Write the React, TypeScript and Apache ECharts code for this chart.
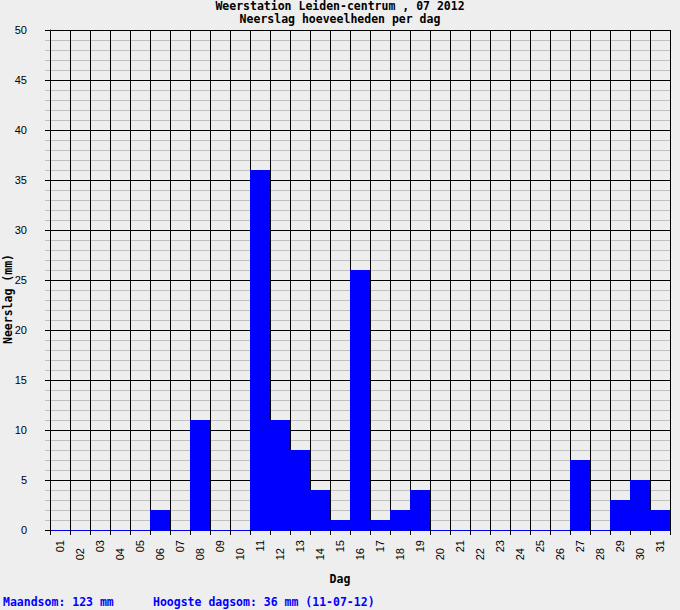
import React, { useEffect, useRef } from "react";
import * as echarts from "echarts";

const days = ["01","02","03","04","05","06","07","08","09","10","11","12","13","14","15","16","17","18","19","20","21","22","23","24","25","26","27","28","29","30","31"];
const rain = [0,0,0,0,0,2,0,11,0,0,36,11,8,4,1,26,1,2,4,0,0,0,0,0,0,0,7,0,3,5,2];
const titleLines = ["Weerstation Leiden-centrum , 07 2012", "Neerslag hoeveelheden per dag"];
const footerLeft = "Maandsom: 123 mm";
const footerRight = "Hoogste dagsom: 36 mm (11-07-12)";
const yName = "Neerslag (mm)";
const xName = "Dag";

const MONO = "'DejaVu Sans Mono', 'Liberation Mono', monospace";
const SANS = "'Liberation Sans', 'DejaVu Sans', sans-serif";

export default function App() {
  const ref = useRef<HTMLDivElement>(null);
  useEffect(() => {
    document.body.style.margin = "0";
    document.body.style.background = "#eeeeee";
    const chart = echarts.init(ref.current!, null, { renderer: "svg" });
    const labelStyle = { fontFamily: SANS, fontSize: 11, color: "#000" };
    const titleStyle = { fontFamily: MONO, fontSize: 11.5, fontWeight: "bold", color: "#000", lineHeight: 11 };
    chart.setOption({
      animation: false,
      backgroundColor: "#eeeeee",
      title: [
        { text: titleLines[0], left: 340, top: 0, textAlign: "center", padding: 0, textStyle: titleStyle },
        { text: titleLines[1], left: 340, top: 13, textAlign: "center", padding: 0, textStyle: titleStyle },
      ],
      grid: { left: 50, top: 30, width: 620, height: 500, containLabel: false, outerBoundsMode: "none" },
      xAxis: [
        {
          type: "category",
          data: days,
          position: "bottom",
          boundaryGap: true,
          name: xName,
          nameLocation: "middle",
          nameGap: 43,
          nameTextStyle: { fontFamily: MONO, fontSize: 11.5, fontWeight: "bold", color: "#000", padding: [0, 40, 0, 0] },
          axisLine: { show: true, lineStyle: { color: "#0000ff", width: 1 } },
          axisTick: { show: true, interval: 0, length: 5, lineStyle: { color: "#000" } },
          splitLine: { show: true, interval: 0, lineStyle: { color: "#000", width: 1 } },
          axisLabel: {
            ...labelStyle,
            rotate: 90,
            margin: 10,
            padding: [4, 0, 0, 0],
            interval: (i: number) => i % 2 === 0,
          },
        },
        {
          type: "category",
          data: days,
          position: "bottom",
          boundaryGap: true,
          axisLine: { show: false },
          axisTick: { show: false },
          splitLine: { show: false },
          axisLabel: {
            ...labelStyle,
            rotate: 90,
            margin: 18,
            padding: [4, 0, 0, 0],
            interval: (i: number) => i % 2 === 1,
          },
        },
      ],
      yAxis: {
        type: "value",
        min: 0,
        max: 50,
        interval: 5,
        axisLine: { show: true, lineStyle: { color: "#000", width: 1 } },
        axisTick: { show: true, length: 5, lineStyle: { color: "#000" } },
        minorTick: { show: true, splitNumber: 5, length: 5, lineStyle: { color: "#c0c0c0" } },
        splitLine: { show: true, lineStyle: { color: "#000", width: 1 } },
        minorSplitLine: { show: true, lineStyle: { color: "#c0c0c0", width: 1 } },
        axisLabel: { ...labelStyle, margin: 23 },
      },
      series: [
        {
          type: "bar",
          data: rain,
          xAxisIndex: 0,
          barCategoryGap: 0,
          barWidth: "100%",
          itemStyle: { color: "#0000ff" },
        },
      ],
      graphic: [
        {
          type: "text",
          x: 8,
          y: 299,
          rotation: Math.PI / 2,
          style: {
            text: yName, fontFamily: MONO, fontSize: 11.5, fontWeight: "bold", fill: "#000",
            align: "center", verticalAlign: "middle",
          },
        },
        {
          type: "text",
          left: 3,
          top: 596,
          style: { text: footerLeft, fontFamily: MONO, fontSize: 11.5, fontWeight: "bold", fill: "#0000ff" },
        },
        {
          type: "text",
          left: 153,
          top: 596,
          style: { text: footerRight, fontFamily: MONO, fontSize: 11.5, fontWeight: "bold", fill: "#0000ff" },
        },
      ],
    });
    return () => chart.dispose();
  }, []);
  return <div ref={ref} style={{ width: 680, height: 610, background: "#eeeeee" }} />;
}
